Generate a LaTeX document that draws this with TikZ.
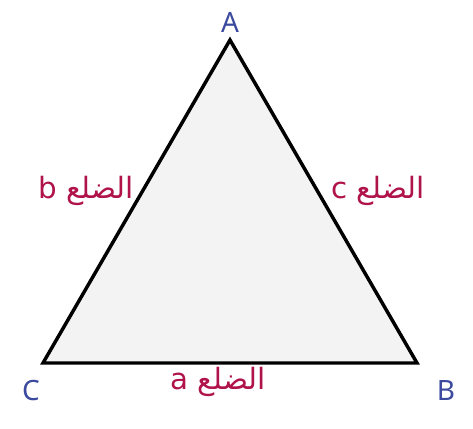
\documentclass[tikz,border=0pt]{standalone}
\usepackage{fontspec}
\setmainfont{Noto Sans}
\newfontfamily\arabicfont[Script=Arabic]{DejaVu Sans}
\TeXXeTstate=1
\definecolor{vblue}{HTML}{3B4A9E}
\definecolor{sred}{HTML}{B0124A}
\definecolor{tfill}{HTML}{F3F3F3}
\tikzset{
  vlabel/.style={text=vblue, font=\fontsize{21}{24}\selectfont, inner sep=0pt},
  slabel/.style={text=sred, font=\arabicfont\fontsize{22}{26}\selectfont, inner sep=0pt},
  tri/.style={draw=black, fill=tfill, line width=2.6pt, line join=miter}
}
\begin{document}
\begin{tikzpicture}[x=0.75pt,y=-0.75pt]
\useasboundingbox (0,0) rectangle (473,428);
\coordinate (A) at (230,40);
\coordinate (B) at (417,363);
\coordinate (C) at (43,363);
\draw[tri] (A) -- (B) -- (C) -- cycle;
\node[vlabel] (lA) at (230,22) {A};
\node[vlabel] (lB) at (446,390) {B};
\node[vlabel] (lC) at (31,390) {C};
\node[slabel] (sb) at (86,191) {\beginR الضلع b\endR};
\node[slabel] (sc) at (378,191) {\beginR الضلع c\endR};
\node[slabel] (sa) at (218,382) {\beginR الضلع a\endR};
\end{tikzpicture}
\end{document}
